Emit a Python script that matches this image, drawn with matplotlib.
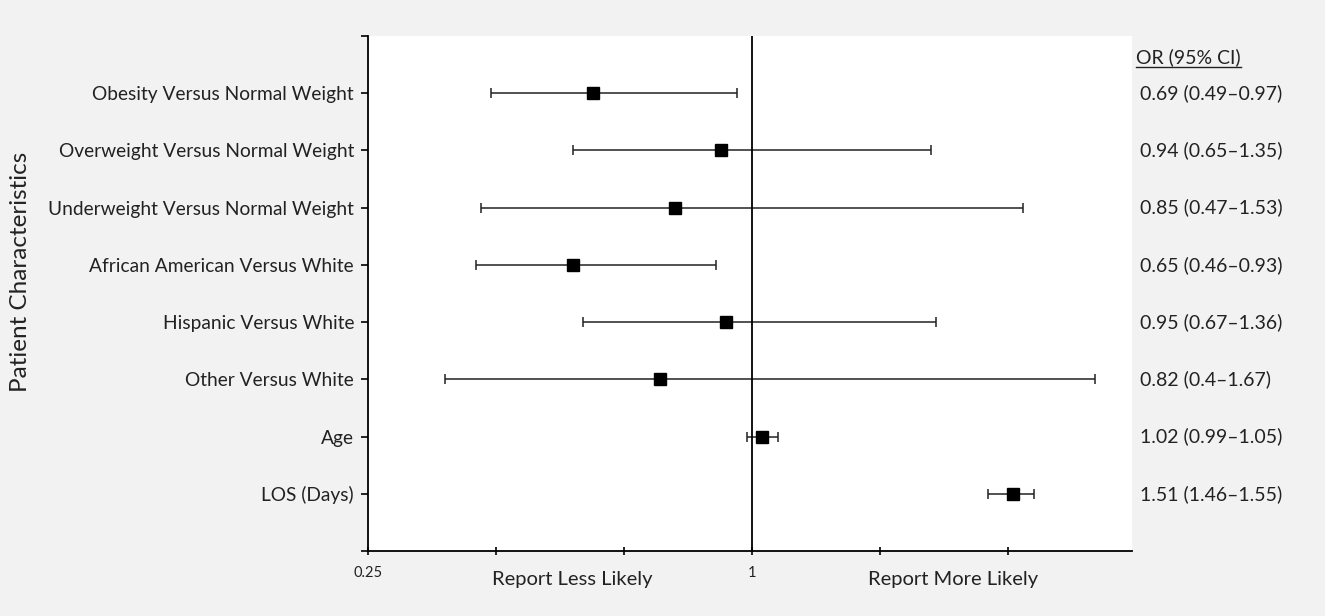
import numpy as np
import matplotlib.pyplot as plt

labels = ["Obesity Versus Normal Weight", "Overweight Versus Normal Weight",
          "Underweight Versus Normal Weight", "African American Versus White",
          "Hispanic Versus White", "Other Versus White", "Age", "LOS (Days)"]
odds = [0.69, 0.94, 0.85, 0.65, 0.95, 0.82, 1.02, 1.51]
ci_low = [0.49, 0.65, 0.47, 0.46, 0.67, 0.4, 0.99, 1.46]
ci_high = [0.97, 1.35, 1.53, 0.93, 1.36, 1.67, 1.05, 1.55]
ci_text = ["0.69 (0.49\u20130.97)", "0.94 (0.65\u20131.35)", "0.85 (0.47\u20131.53)",
           "0.65 (0.46\u20130.93)", "0.95 (0.67\u20131.36)", "0.82 (0.4\u20131.67)",
           "1.02 (0.99\u20131.05)", "1.51 (1.46\u20131.55)"]

plt.rcParams['font.family'] = ['Lato', 'DejaVu Sans']
bg = '#f2f2f2'
txt = '#222222'

fig = plt.figure(figsize=(13.25, 6.16), dpi=100, facecolor=bg)
ax = fig.add_axes([368 / 1325, 1 - 551 / 616, (1132 - 368) / 1325, (551 - 36) / 616])
ax.set_facecolor('white')

y = np.arange(1, len(labels) + 1)
odds = np.array(odds)
err = [odds - np.array(ci_low), np.array(ci_high) - odds]
ax.errorbar(odds, y, xerr=err, fmt='s', color='black', ecolor='#222222',
            elinewidth=1.1, capsize=3.5, capthick=1.1, markersize=8.5)

ax.axvline(1, color='black', lw=1.3)

ax.set_xlim(0.25, 1.742)
ax.set_ylim(len(labels) + 1, 0)

ax.set_yticks(np.arange(0, len(labels) + 2))
ax.set_yticklabels([''] + labels + [''], fontsize=13.8, color=txt)
ax.tick_params(axis='y', direction='out', length=5, width=1.2, pad=5)

ax.set_xticks([0.25, 0.5, 0.75, 1, 1.25, 1.5])
ax.set_xticklabels(['0.25', '', '', '1', '', ''], fontsize=10.5, color=txt)
ax.tick_params(axis='x', direction='inout', length=6, width=1.2, pad=8)

for s in ['top', 'right']:
    ax.spines[s].set_visible(False)
for s in ['left', 'bottom']:
    ax.spines[s].set_linewidth(1.3)

fig.text(21 / 1325, 1 - 272 / 616, "Patient Characteristics", rotation=90,
         ha='center', va='center', fontsize=17.5, color=txt)

# bottom direction labels
ax.text(0.648, -0.055, "Report Less Likely", transform=ax.get_xaxis_transform(),
        ha='center', va='center', fontsize=14.5, color=txt)
ax.text(1.393, -0.055, "Report More Likely", transform=ax.get_xaxis_transform(),
        ha='center', va='center', fontsize=14.5, color=txt)

# OR column on the right
hdr = fig.text(1136 / 1325, 1 - 57 / 616, "OR (95% CI)", ha='left', va='center',
               fontsize=14, color=txt)
fig.canvas.draw()
bb = hdr.get_window_extent()
fig.add_artist(plt.Line2D([bb.x0 / 1325, bb.x1 / 1325],
                          [(bb.y0 - 1) / 616, (bb.y0 - 1) / 616],
                          color=txt, lw=1))
col_trans = ax.get_yaxis_transform().__class__(fig.transFigure, ax.transData)
for yi, t in zip(y, ci_text):
    ax.text(1140 / 1325, yi, t, transform=col_trans,
            ha='left', va='center', fontsize=14, color=txt)

fig.savefig('out.png', dpi=100, facecolor=bg)
